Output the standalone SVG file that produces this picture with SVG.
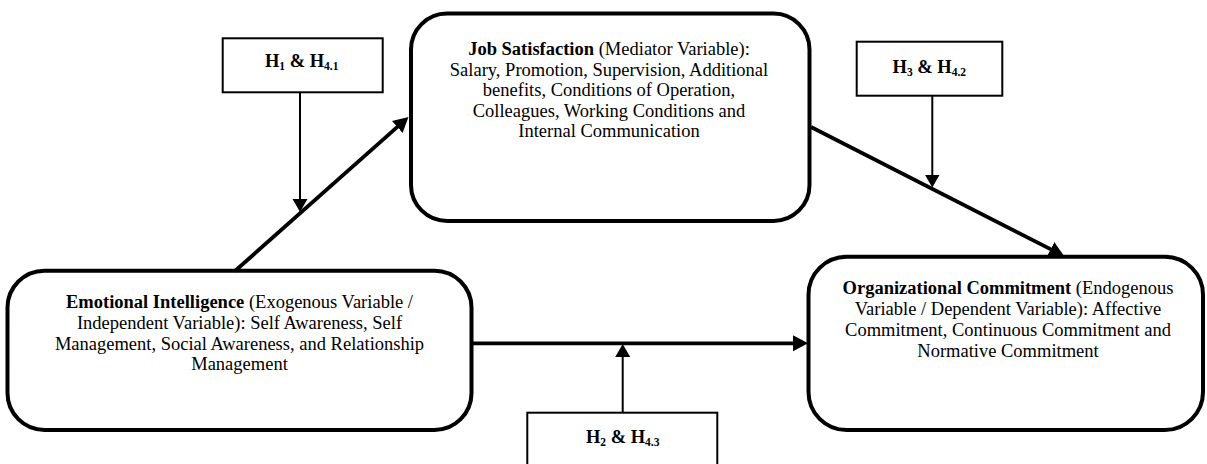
<svg xmlns="http://www.w3.org/2000/svg" width="1207" height="464" viewBox="0 0 1207 464">
  <defs>
    <style>
      .big { fill: #ffffff; stroke: #000000; stroke-width: 4; }
      .hyp { fill: #ffffff; stroke: #000000; stroke-width: 2; }
      .txt { font-family: "Liberation Serif", "Times New Roman", serif; font-size: 18.5px; fill: #000000; text-anchor: middle; }
      .hl { font-family: "Liberation Serif", "Times New Roman", serif; font-size: 18.5px; font-weight: bold; fill: #000000; text-anchor: middle; }
      .b { font-weight: bold; }
      .thick { stroke: #000000; stroke-width: 3.8; fill: none; marker-end: url(#headThick); }
      .thin { stroke: #000000; stroke-width: 2; fill: none; marker-end: url(#headThin); }
    </style>
    <marker id="headThick" markerUnits="userSpaceOnUse" markerWidth="16" markerHeight="17" refX="7" refY="8" orient="auto" viewBox="0 0 16 17">
      <path d="M0,0 L15,8 L0,16 Z" fill="#000000"/>
    </marker>
    <marker id="headThin" markerUnits="userSpaceOnUse" markerWidth="14" markerHeight="16" refX="6" refY="7.5" orient="auto" viewBox="0 0 14 16">
      <path d="M0,0 L13,7.5 L0,15 Z" fill="#000000"/>
    </marker>
  </defs>
  <rect width="1207" height="464" fill="#ffffff"/>

  <g id="job-satisfaction">
    <rect class="big" x="411" y="13.5" width="398.5" height="207.5" rx="36" ry="36"/>
    <text class="txt" x="609" y="55"><tspan class="b">Job Satisfaction</tspan> (Mediator Variable):</text>
    <text class="txt" x="609" y="75.5">Salary, Promotion, Supervision, Additional</text>
    <text class="txt" x="609" y="96">benefits, Conditions of Operation,</text>
    <text class="txt" x="609" y="116.5">Colleagues, Working Conditions and</text>
    <text class="txt" x="609" y="137">Internal Communication</text>
  </g>

  <g id="emotional-intelligence">
    <rect class="big" x="7.5" y="270.7" width="464" height="159.3" rx="37" ry="37"/>
    <text class="txt" x="239.5" y="307.5"><tspan class="b">Emotional Intelligence</tspan> (Exogenous Variable /</text>
    <text class="txt" x="239.5" y="328.5">Independent Variable): Self Awareness, Self</text>
    <text class="txt" x="239.5" y="349.5">Management, Social Awareness, and Relationship</text>
    <text class="txt" x="239.5" y="370">Management</text>
  </g>

  <g id="organizational-commitment">
    <rect class="big" x="808.5" y="256.7" width="394.5" height="173.3" rx="38" ry="38"/>
    <text class="txt" x="1008" y="293.5"><tspan class="b">Organizational Commitment</tspan> (Endogenous</text>
    <text class="txt" x="1008" y="315">Variable / Dependent Variable): Affective</text>
    <text class="txt" x="1008" y="336">Commitment, Continuous Commitment and</text>
    <text class="txt" x="1008" y="357">Normative Commitment</text>
  </g>

  <g id="h1-h41">
    <rect class="hyp" x="222.7" y="38.3" width="160" height="54"/>
    <text class="hl" x="301.7" y="67.3">H<tspan font-size="11.5" dy="3">1</tspan><tspan dy="-3"> &amp; H</tspan><tspan font-size="11.5" dy="3">4.1</tspan></text>
  </g>

  <g id="h3-h42">
    <rect class="hyp" x="856.7" y="41.7" width="145.6" height="54"/>
    <text class="hl" x="929.3" y="72.7">H<tspan font-size="11.5" dy="3">3</tspan><tspan dy="-3"> &amp; H</tspan><tspan font-size="11.5" dy="3">4.2</tspan></text>
  </g>

  <g id="h2-h43">
    <rect class="hyp" x="527.3" y="412.7" width="190" height="60"/>
    <text class="hl" x="622.7" y="442.7">H<tspan font-size="11.5" dy="3">2</tspan><tspan dy="-3"> &amp; H</tspan><tspan font-size="11.5" dy="3">4.3</tspan></text>
  </g>

  <g id="connectors">
    <line class="thick" x1="235" y1="271" x2="402.5" y2="122.3"/>
    <line class="thick" x1="811" y1="127" x2="1056.9" y2="252.4"/>
    <line class="thick" x1="471.7" y1="343.3" x2="800" y2="343.3"/>
    <line class="thin" x1="300" y1="92.3" x2="300" y2="205"/>
    <line class="thin" x1="932.3" y1="95.7" x2="932.3" y2="180.5"/>
    <line class="thin" x1="622.7" y1="412.7" x2="622.7" y2="351"/>
  </g>
</svg>
